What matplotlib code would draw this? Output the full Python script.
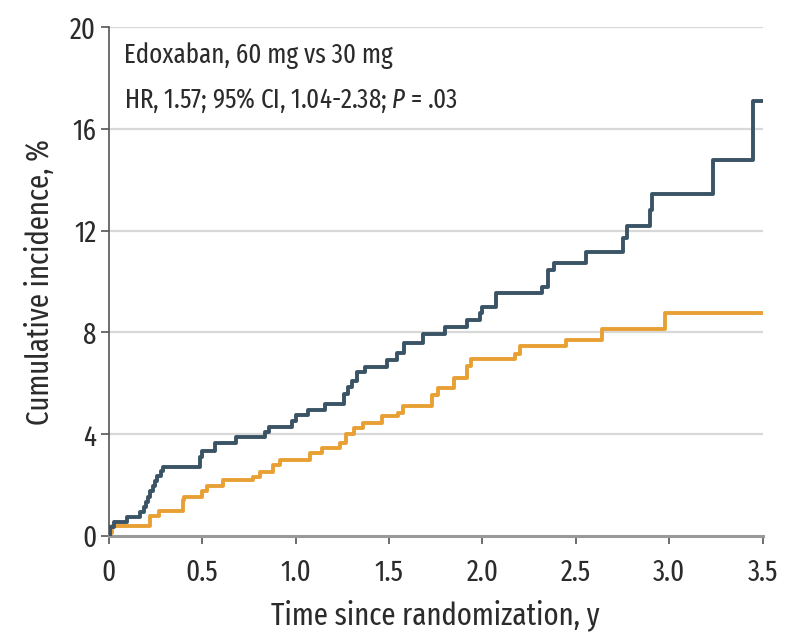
import matplotlib.pyplot as plt

# step curves (time in years, cumulative incidence in %)
t_60mg = [0, 0.005, 0.03, 0.1, 0.165, 0.19, 0.2, 0.21, 0.22, 0.235, 0.25, 0.26, 0.28, 0.29,
          0.49, 0.5, 0.57, 0.68, 0.835, 0.86, 0.98, 1.0, 1.065, 1.155, 1.26, 1.28, 1.3, 1.33,
          1.37, 1.49, 1.545, 1.58, 1.68, 1.8, 1.915, 1.985, 2.0, 2.075, 2.32, 2.35, 2.385,
          2.555, 2.75, 2.775, 2.895, 2.905, 3.235, 3.45, 3.5]
inc_60mg = [0, 0.35, 0.55, 0.75, 0.95, 1.15, 1.35, 1.55, 1.75, 1.95, 2.15, 2.35, 2.55, 2.7,
            3.1, 3.35, 3.65, 3.9, 4.1, 4.3, 4.5, 4.75, 4.95, 5.2, 5.6, 5.85, 6.1, 6.45,
            6.65, 6.9, 7.2, 7.6, 7.95, 8.2, 8.5, 8.75, 9.0, 9.55, 9.8, 10.45, 10.75,
            11.15, 11.7, 12.2, 12.8, 13.45, 14.8, 17.1, 17.1]

t_30mg = [0, 0.005, 0.02, 0.22, 0.27, 0.395, 0.405, 0.5, 0.525, 0.61, 0.77, 0.81, 0.88,
          0.915, 1.075, 1.14, 1.235, 1.27, 1.315, 1.36, 1.46, 1.55, 1.575, 1.73, 1.76, 1.85,
          1.915, 1.94, 2.175, 2.2, 2.445, 2.64, 2.975, 3.49]
inc_30mg = [0, 0.1, 0.4, 0.8, 1.0, 1.4, 1.55, 1.75, 1.95, 2.2, 2.3, 2.5, 2.8,
            3.0, 3.25, 3.45, 3.65, 4.0, 4.25, 4.45, 4.7, 4.85, 5.1, 5.55, 5.8, 6.2,
            6.7, 6.95, 7.15, 7.45, 7.7, 8.15, 8.75, 8.75]

xticks = [0, 0.5, 1.0, 1.5, 2.0, 2.5, 3.0, 3.5]
xticklabels = ["0", "0.5", "1.0", "1.5", "2.0", "2.5", "3.0", "3.5"]
yticks = [0, 4, 8, 12, 16, 20]

plt.rcParams["font.family"] = ["Fira Sans Extra Condensed", "DejaVu Sans"]
plt.rcParams["mathtext.fontset"] = "custom"
plt.rcParams["mathtext.it"] = "Fira Sans Extra Condensed:italic"

txt = "#2b2b2b"
dark = "#3a5465"
orange = "#e8a035"

fig = plt.figure(figsize=(7.88, 6.35), dpi=100)
ax = fig.add_axes([0.138, 0.156, 0.830, 0.801])

for y in yticks[1:]:
    ax.axhline(y, color="#d8d8d8", lw=1.6, zorder=0)

ax.step(t_30mg, inc_30mg, where="post", color=orange, lw=2.8, zorder=3)
ax.step(t_60mg, inc_60mg, where="post", color=dark, lw=2.8, zorder=4)

ax.set_xlim(0, 3.5)
ax.set_ylim(0, 20)
ax.set_xticks(xticks)
ax.set_xticklabels(xticklabels)
ax.set_yticks(yticks)
ax.tick_params(axis="both", labelsize=21, colors="#555555", labelcolor=txt,
               length=6, width=1.2, direction="out")
ax.tick_params(axis="x", pad=10)
ax.tick_params(axis="y", pad=3)

for s in ["top", "right"]:
    ax.spines[s].set_visible(False)
ax.spines["left"].set_color("#555555")
ax.spines["left"].set_linewidth(1.2)
ax.spines["bottom"].set_color("#999999")
ax.spines["bottom"].set_linewidth(2.2)

ax.set_xlabel("Time since randomization, y", fontsize=22.5, color=txt, labelpad=9)
ax.set_ylabel("Cumulative incidence, %", fontsize=22.5, color=txt, labelpad=11)

ax.text(0.023, 0.945, "Edoxaban, 60 mg vs 30 mg", transform=ax.transAxes,
        fontsize=19.5, color=txt, va="center", ha="left")
ax.text(0.023, 0.857, "HR, 1.57; 95% CI, 1.04-2.38; $P$ = .03", transform=ax.transAxes,
        fontsize=19.5, color=txt, va="center", ha="left")

fig.savefig("out.png", dpi=100)
